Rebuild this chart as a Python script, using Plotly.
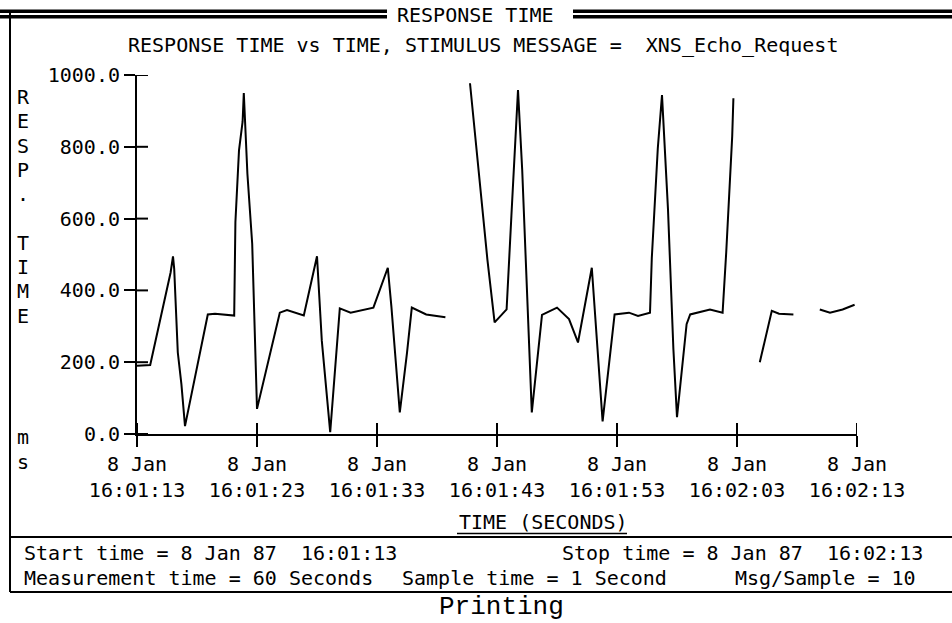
import plotly.graph_objects as go

W, H = 952, 623

# ---------------- data (seconds after 16:01:13, response time in ms) ----------------
seg1_t = [0, 1.1, 2.8, 3.0, 3.1, 3.4, 3.7, 4.0, 5.9, 6.5, 8.1, 8.2, 8.5, 8.8, 8.9,
          9.2, 9.6, 9.8, 10.0, 11.9, 12.5, 13.9, 15.0, 15.4, 16.1, 16.9, 17.8, 19.7,
          20.9, 21.2, 21.5, 21.9, 22.5, 22.9, 24.1, 25.7]
seg1_v = [190, 192, 450, 495, 460, 227, 139, 22, 333, 335, 330, 590, 790, 870, 950,
          725, 530, 295, 70, 338, 345, 330, 495, 260, 5, 350, 338, 352,
          463, 355, 226, 60, 226, 352, 333, 325]

seg2_t = [27.75, 28.2, 28.6, 29.2, 29.8, 30.8, 31.2, 31.75, 32.1, 32.5, 32.9, 33.75,
          35.0, 36.0, 36.75, 37.9, 38.3, 38.8, 39.8, 41.0, 41.75, 42.75, 42.9, 43.4,
          43.75, 44.25, 44.7, 45.0, 45.8, 46.1, 47.75, 48.8, 49.1, 49.6, 49.7]
seg2_v = [977, 825, 690, 486, 311, 347, 608, 958, 736, 395, 60, 332,
          352, 320, 255, 463, 282, 35, 333, 338, 329, 338, 490, 796,
          944, 625, 236, 47, 306, 333, 347, 338, 505, 829, 935]

seg3_t = [51.9, 52.9, 53.5, 54.7]
seg3_v = [200, 343, 335, 333]

seg4_t = [56.9, 57.75, 58.8, 59.8]
seg4_v = [347, 338, 347, 360]

tick_seconds = [0, 10, 20, 30, 40, 50, 60]
tick_dates = ["8 Jan", "8 Jan", "8 Jan", "8 Jan", "8 Jan", "8 Jan", "8 Jan"]
tick_times = ["16:01:13", "16:01:23", "16:01:33", "16:01:43",
              "16:01:53", "16:02:03", "16:02:13"]
y_ticks = [0, 200, 400, 600, 800, 1000]
y_ticktext = ["0.0", "200.0", "400.0", "600.0", "800.0", "1000.0"]

ytitle_letters = ["R", "E", "S", "P", ".", "", "T", "I", "M", "E", "", "", "", "", "m", "s"]

# ---------------- assemble line with gaps ----------------
xs, ys = [], []
for tt, vv in [(seg1_t, seg1_v), (seg2_t, seg2_v), (seg3_t, seg3_v), (seg4_t, seg4_v)]:
    if xs:
        xs.append(None)
        ys.append(None)
    xs += tt
    ys += vv

MONO = "DejaVu Sans Mono"
FS = 20

# plot area in pixels
L, R, T, B = 137, 857, 75, 434


def px(x):
    return (x - L) / (R - L)


def py(y):
    return (B - y) / (B - T)


fig = go.Figure()
fig.add_trace(go.Scatter(x=xs, y=ys, mode="lines", connectgaps=False,
                         line=dict(color="black", width=2), hoverinfo="skip",
                         showlegend=False))

shapes = []
# inner halves of tick marks (crossing ticks)
for t in tick_seconds:
    shapes.append(dict(type="line", xref="x", yref="y", x0=t, x1=t,
                       ysizemode="pixel", yanchor=0, y0=0, y1=11,
                       line=dict(color="black", width=2)))
for v in y_ticks:
    shapes.append(dict(type="line", xref="x", yref="y", y0=v, y1=v,
                       xsizemode="pixel", xanchor=0, x0=0, x1=11,
                       line=dict(color="black", width=2)))

# header double bands
for (x0, x1) in [(0, 387), (573, 952)]:
    for (y0, y1) in [(9.5, 13), (15, 18.5)]:
        shapes.append(dict(type="rect", xref="paper", yref="paper",
                           x0=px(x0), x1=px(x1), y0=py(y1), y1=py(y0),
                           fillcolor="black", line=dict(width=0)))
# frame
shapes.append(dict(type="line", xref="paper", yref="paper", x0=px(10), x1=px(10),
                   y0=py(13), y1=py(592), line=dict(color="black", width=2)))
shapes.append(dict(type="line", xref="paper", yref="paper", x0=px(10), x1=px(952),
                   y0=py(537), y1=py(537), line=dict(color="black", width=2)))
shapes.append(dict(type="line", xref="paper", yref="paper", x0=px(10), x1=px(952),
                   y0=py(592), y1=py(592), line=dict(color="black", width=2)))
# underline of x-axis title
shapes.append(dict(type="line", xref="paper", yref="paper", x0=px(457), x1=px(627),
                   y0=py(533.5), y1=py(533.5), line=dict(color="black", width=1.5)))

NB = "\u00a0"
ann = []


def text(s, x, y, anchor="left", size=FS, family=MONO):
    ann.append(dict(text=s.replace("  ", NB + NB), x=px(x), y=py(y), xref="paper", yref="paper",
                    xanchor=anchor, yanchor="middle", showarrow=False,
                    font=dict(family=family, size=size, color="black")))


text("RESPONSE TIME", 475, 15, "center")
text("RESPONSE TIME vs TIME, STIMULUS MESSAGE =  XNS_Echo_Request", 126, 45)
for i, ch in enumerate(ytitle_letters):
    if ch:
        text(ch, 23, 97 + i * 24.3, "center")
text("TIME (SECONDS)", 457, 522)
text("Start time = 8 Jan 87  16:01:13", 22, 553)
text("Stop time = 8 Jan 87  16:02:13", 560, 553)
text("Measurement time = 60 Seconds", 22, 578)
text("Sample time = 1 Second", 400, 578)
text("Msg/Sample = 10", 733, 578)
text("Printing", 437, 607, size=26, family="Liberation Mono")

fig.update_layout(
    width=W, height=H,
    margin=dict(l=L, r=W - R, t=T, b=H - B, pad=0),
    paper_bgcolor="white", plot_bgcolor="white",
    font=dict(family=MONO, size=FS, color="black"),
    shapes=shapes, annotations=ann,
    xaxis=dict(range=[0, 60], showgrid=False, zeroline=False, showline=True,
               linecolor="black", linewidth=2, ticks="outside", ticklen=11,
               tickwidth=2, tickcolor="black", tickvals=tick_seconds,
               ticktext=[d + "<br>" + t for d, t in zip(tick_dates, tick_times)],
               tickfont=dict(family=MONO, size=FS, color="black"), fixedrange=True),
    yaxis=dict(range=[0, 1000], showgrid=False, zeroline=False, showline=True,
               linecolor="black", linewidth=2, ticks="outside", ticklen=11,
               tickwidth=2, tickcolor="black", tickvals=y_ticks, ticktext=y_ticktext,
               tickfont=dict(family=MONO, size=FS, color="black"), fixedrange=True),
)

fig.write_html("out.html", config={"displayModeBar": False})
